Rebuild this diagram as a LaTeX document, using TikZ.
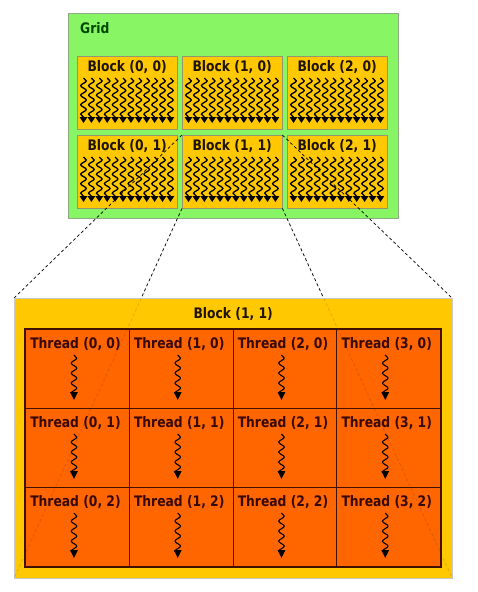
\documentclass[tikz,border=0pt]{standalone}
\usepackage{fontspec}
\newfontfamily\diagfont{DejaVu Sans}[FakeStretch=0.85]
\usetikzlibrary{positioning,decorations.pathmorphing,arrows.meta}
\definecolor{gridgreen}{RGB}{135,245,100}
\definecolor{gridedge}{RGB}{140,170,130}
\definecolor{gridink}{RGB}{0,70,0}
\definecolor{blockyellow}{RGB}{255,200,0}
\definecolor{blockedge}{RGB}{150,150,110}
\definecolor{bigedge}{RGB}{200,200,200}
\definecolor{blockink}{RGB}{30,20,0}
\definecolor{threadorange}{RGB}{255,102,0}
\definecolor{threadedge}{RGB}{64,16,0}
\definecolor{threadink}{RGB}{55,8,8}

\begin{document}
\begin{tikzpicture}[x=1pt, y=-1pt,
    labelfont/.style={font=\diagfont\bfseries\fontsize{14.5}{16}\selectfont, inner sep=0pt},
    gridbox/.style={draw=gridedge, fill=gridgreen, anchor=north west, inner sep=0pt,
        minimum width=330pt, minimum height=205pt},
    blockbox/.style={draw=blockedge, fill=blockyellow, anchor=north west, inner sep=0pt,
        minimum width=100pt, minimum height=73pt},
    bigbox/.style={draw=bigedge, fill=blockyellow, anchor=north west, inner sep=0pt,
        minimum width=438pt, minimum height=280pt},
    threadbox/.style={draw=threadedge, line width=1.2pt, fill=threadorange, anchor=north west,
        inner sep=0pt, minimum width=103.75pt, minimum height=79pt},
    threadframe/.style={draw=threadedge, line width=2.4pt},
    blockwave/.style={decorate, decoration={snake, amplitude=2.8pt, segment length=9.5pt, post length=2pt},
        line width=1.3pt, -{Triangle[length=6pt, width=7.5pt]}},
    threadwave/.style={decorate, decoration={snake, amplitude=2.8pt, segment length=10pt, post length=2pt},
        line width=1.1pt, -{Triangle[length=8pt, width=7.5pt]}},
    dashline/.style={dash pattern=on 3pt off 2.5pt, line width=0.7pt}]
  \useasboundingbox (0,0) rectangle (477,592);

  % the grid of blocks
  \node[gridbox] (grid) at (68,13) {};
  \node[labelfont, text=gridink, anchor=west] (gridlabel) at (80,28) {Grid};
  \foreach \i in {0,1,2} {
    \foreach \j in {0,1} {
      \pgfmathsetmacro\bx{77+105*\i}
      \pgfmathsetmacro\by{56+79*\j}
      \node[blockbox] (b\i\j) at (\bx,\by) {};
      \node[labelfont, text=blockink] (bl\i\j) at ([yshift=-11.5pt]b\i\j.north) {Block (\i, \j)};
      \foreach \k in {0,...,11} {
        \pgfmathsetmacro\wx{6.5+7.9*\k}
        \draw[blockwave] ([xshift=\wx pt, yshift=-22pt]b\i\j.north west)
          -- ([xshift=\wx pt, yshift=-67pt]b\i\j.north west);
      }
    }
  }

  % zoom lines
  \draw[dashline] (b11.north west) -- (14,298) coordinate (bignw);
  \draw[dashline] (b11.north east) -- (452,298) coordinate (bigne);
  \draw[dashline] (b11.south west) -- (14,578) coordinate (bigsw);
  \draw[dashline] (b11.south east) -- (452,578) coordinate (bigse);

  % block (1, 1) with its threads
  \node[bigbox] (big) at (bignw) {};
  \node[labelfont, text=blockink] (biglabel) at ([yshift=-16pt]big.north) {Block (1, 1)};
  \foreach \i in {0,...,3} {
    \foreach \j in {0,1,2} {
      \pgfmathsetmacro\cx{25+103.75*\i}
      \pgfmathsetmacro\cy{329+79*\j}
      \node[threadbox] (c\i\j) at (\cx,\cy) {};
    }
  }
  \draw[dashline, draw opacity=0.15] (b11.south west) -- (big.south west);
  \draw[dashline, draw opacity=0.15] (b11.south east) -- (big.south east);
  \draw[threadframe] (c00.north west) rectangle (c32.south east);
  \foreach \i in {0,...,3} {
    \foreach \j in {0,1,2} {
      \node[labelfont, text=threadink] (tl\i\j) at ([xshift=-2pt, yshift=-15pt]c\i\j.north) {Thread (\i, \j)};
      \draw[threadwave] ([xshift=-3.5pt, yshift=-26pt]c\i\j.north) -- ([xshift=-3.5pt, yshift=-71pt]c\i\j.north);
    }
  }
\end{tikzpicture}
\end{document}
